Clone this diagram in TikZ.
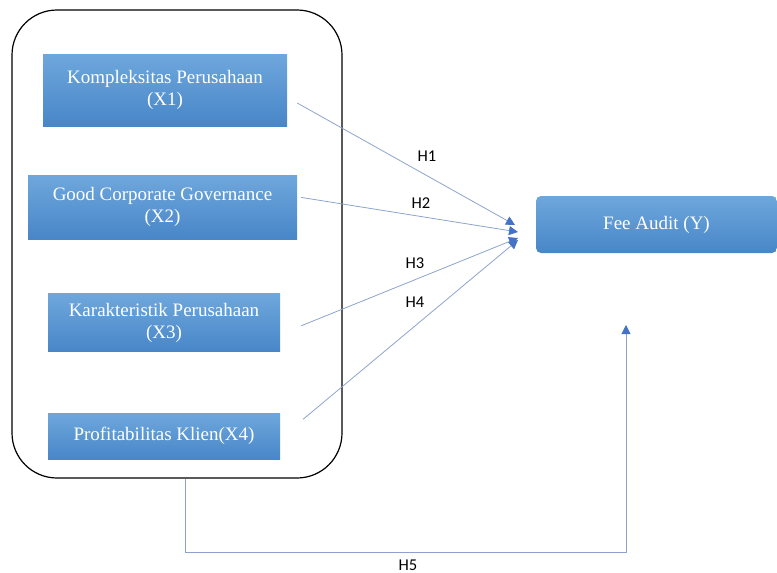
\documentclass[tikz,border=0pt]{standalone}
\usepackage{fontspec}
\setmainfont{Liberation Serif}
\newfontfamily\labfont{Carlito}
\usetikzlibrary{arrows.meta,positioning}
\definecolor{boxtop}{HTML}{6EA7DC}
\definecolor{boxbot}{HTML}{4886C8}
\definecolor{hypline}{HTML}{8CA4CC}
\definecolor{hyptip}{HTML}{4472C4}
\tikzset{
    var/.style={inner sep=0pt,top color=boxtop,bottom color=boxbot,text=white,
        align=center,font=\fontsize{19}{22}\selectfont},
    frame/.style={draw=black,line width=1.2pt,rounded corners=45pt,inner sep=0pt,
        minimum width=330pt,minimum height=468pt},
    hyp/.style={draw=hypline,line width=0.8pt,-{Triangle[width=9pt,length=9pt,color=hyptip]}},
    hlabel/.style={font=\labfont\fontsize{16.5}{18}\selectfont}
}

\begin{document}
\begin{tikzpicture}[x=1pt,y=-1pt]

    \useasboundingbox (0,0) rectangle (777,573);

    \node[frame] (group) at (177,244) {};

    \node[var,minimum width=244pt,minimum height=72pt] (x1) at (165,90)
        {Kompleksitas Perusahaan\\(X1)};
    \node[var,minimum width=269pt,minimum height=64pt] (x2) [below=49pt of x1,xshift=-2.5pt]
        {Good Corporate Governance\\(X2)};
    \node[var,minimum width=232pt,minimum height=58pt] (x3) [below=54pt of x2,xshift=1.5pt]
        {Karakteristik Perusahaan\\(X3)};
    \node[var,minimum width=232pt,minimum height=46pt] (x4) [below=61pt of x3]
        {Profitabilitas Klien(X4)};

    \node[var,rounded corners=5pt,minimum width=241pt,minimum height=57pt] (fee) at (656.5,224.5)
        {Fee Audit (Y)};

    % arrow tips in front of Fee Audit
    \coordinate (t1) at (515,225);
    \coordinate (t2) at (518,232);
    \coordinate (t3) at (518,238);
    \coordinate (t4) at (518,240);
    \coordinate (t5) at (626,325);
    \coordinate (c5) at (626,552);

    \draw[hyp] ([shift={(10,13)}]x1.east) -- (t1);
    \draw[hyp] ([shift={(4,-10)}]x2.east) -- (t2);
    \draw[hyp] ([shift={(21,3)}]x3.east) -- (t3);
    \draw[hyp] ([shift={(23,-17)}]x4.east) -- (t4);
    \draw[hyp] (group.south -| 185,0) |- (c5) -- (t5);

    \node[hlabel] (h1) at (427,156) {H1};
    \node[hlabel] (h2) at (421,203) {H2};
    \node[hlabel] (h3) at (415,263) {H3};
    \node[hlabel] (h4) at (415,302) {H4};
    \node[hlabel,inner sep=1pt] (h5) at (408,565) {H5};

\end{tikzpicture}
\end{document}
